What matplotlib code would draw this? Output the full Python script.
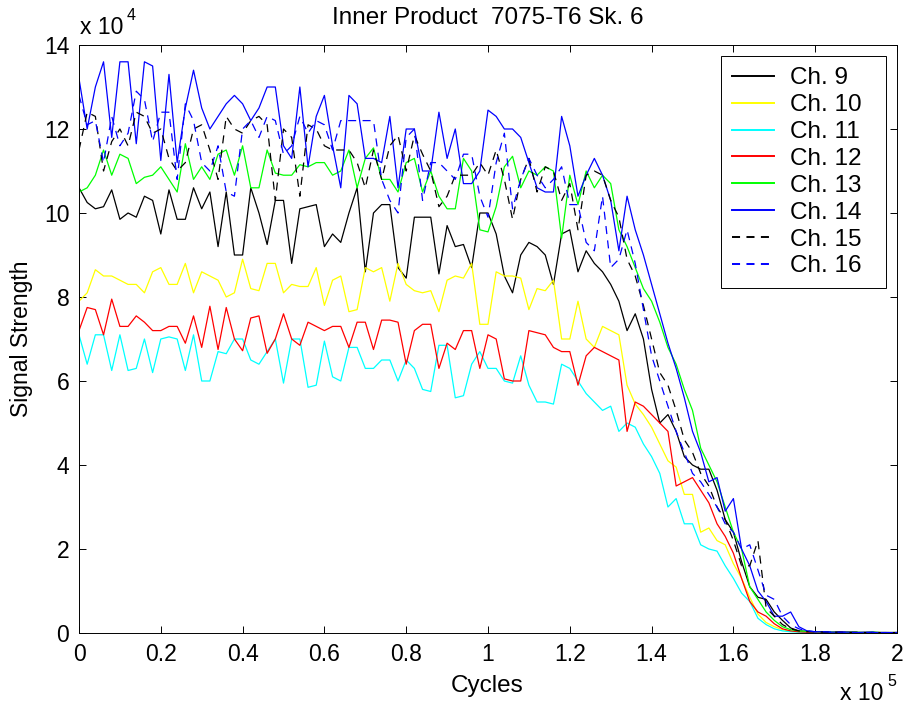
import numpy as np
import matplotlib
matplotlib.use("Agg")
import matplotlib.pyplot as plt

plt.rcParams['font.family'] = ['Liberation Sans', 'DejaVu Sans']
plt.rcParams['lines.scale_dashes'] = False

# cycles in units of 1e5, signal in units of 1e4
cycles = np.linspace(0, 2, 101)

ch9 = [10.6, 10.25, 10.1, 10.15, 10.55, 9.85, 10.0, 9.9, 10.4, 10.3, 9.5,
       10.55, 9.85, 9.85, 10.6, 10.1, 10.5, 9.2, 10.5, 9.0, 9.0,
       10.6, 10.0, 9.25, 10.3, 10.3, 8.8, 10.1, 10.15, 10.2, 9.2,
       9.5, 9.3, 10.0, 10.6, 8.6, 10.0, 10.2, 10.2, 8.7, 8.45,
       9.9, 9.9, 9.9, 8.55, 9.7, 9.2, 9.25, 8.7, 10.0, 10.0,
       9.5, 8.5, 8.1, 9.0, 9.3, 9.2, 9.0, 8.3, 9.5, 9.6,
       8.6, 9.1, 8.8, 8.6, 8.3, 7.9, 7.2, 7.6, 7.0,
       5.8, 5.0, 5.2, 4.8, 4.2, 4.0, 3.9, 3.9, 3.4, 2.7, 2.4, 1.7, 1.1, 0.85,
       0.8, 0.5, 0.3, 0.12,
       0.05, 0.04, 0.03, 0.02, 0.02, 0.01, 0.02, 0.01, 0.01, 0.02, 0.01, 0.01, 0.01]

ch10 = [7.9, 8.1, 8.65, 8.5, 8.5, 8.4, 8.3, 8.3, 8.1, 8.6,
        8.7, 8.3, 8.3, 8.8, 8.1, 8.6, 8.5, 8.4, 8.0, 8.1,
        8.9, 8.2, 8.15, 8.8, 8.8, 8.1, 8.3, 8.25, 8.25, 8.7, 7.8,
        8.4, 8.5, 7.65, 7.7, 8.7, 8.6, 8.7, 7.9, 8.8, 8.3,
        8.15, 8.1, 8.15, 7.65, 8.4, 8.5, 8.45, 8.8, 7.35, 7.35,
        8.6, 8.5, 8.5, 8.45, 7.7, 8.2, 8.15, 8.4, 7.0, 7.0,
        7.9, 7.0, 6.8, 7.3, 7.2, 7.1, 5.9, 5.45, 5.2, 4.9,
        4.5, 4.1, 3.95, 3.3, 3.3, 2.4, 2.5, 2.2, 2.1, 1.65,
        1.3, 0.85, 0.45, 0.25, 0.15, 0.08, 0.04,
        0.03, 0.02, 0.02, 0.01, 0.02, 0.01, 0.01, 0.01, 0.02, 0.01, 0.01, 0.01, 0.01]

ch11 = [7.1, 6.4, 7.1, 7.1, 6.25, 7.1, 6.25, 6.3, 7.0, 6.2,
        7.0, 7.05, 7.0, 6.25, 7.1, 6.0, 6.0, 6.7, 6.65, 7.0,
        7.0, 6.5, 6.4, 6.7, 7.0, 5.95, 7.0, 7.0, 5.85, 5.9, 6.95,
        6.1, 6.0, 6.8, 6.8, 6.3, 6.3, 6.5, 6.5, 6.0, 6.5,
        6.3, 5.8, 5.75, 6.85, 6.85, 5.6, 5.65, 6.4, 6.7, 6.3,
        6.3, 6.0, 5.95, 6.6, 5.9, 5.5, 5.5, 5.45, 6.4,
        6.3, 6.0, 5.7, 5.5, 5.3, 5.4, 4.8, 5.0, 4.9, 4.5, 4.2, 3.8, 3.0,
        3.2, 2.6, 2.6, 2.1, 2.0, 1.95, 1.6, 1.3, 0.95, 0.75, 0.35, 0.2, 0.1,
        0.05, 0.03,
        0.02, 0.02, 0.01, 0.01, 0.01, 0.01, 0.01, 0.01, 0.01, 0.01, 0.01, 0.01, 0.01]

ch12 = [7.2, 7.75, 7.7, 7.1, 7.95, 7.3, 7.3, 7.55, 7.4, 7.2,
        7.2, 7.3, 7.3, 6.9, 7.55, 6.8, 7.78, 6.75, 7.75, 7.0,
        6.72, 7.5, 7.55, 6.66, 7.0, 7.6, 7.0, 6.85, 7.4, 7.3, 7.2,
        7.3, 7.3, 6.8, 7.4, 7.4, 6.75, 7.45, 7.45, 7.4, 6.4,
        7.2, 7.35, 7.35, 6.3, 6.9, 6.75, 7.2, 7.2, 6.3, 7.1,
        7.0, 6.05, 6.0, 6.0, 7.2, 7.15, 7.1, 6.8, 6.7,
        6.7, 5.9, 6.6, 6.8, 6.7, 6.6, 6.5, 4.8, 5.5, 5.4,
        5.2, 5.0, 4.8, 3.5, 3.6, 3.7, 3.4, 3.1, 2.6, 2.3,
        1.9, 1.3, 0.75, 0.5, 0.4, 0.22, 0.1, 0.05,
        0.03, 0.02, 0.02, 0.02, 0.01, 0.03, 0.02, 0.01, 0.01, 0.01, 0.01, 0.01, 0.01]

ch13 = [10.5, 10.6, 10.9, 11.5, 10.9, 11.4, 11.3, 10.7, 10.85, 10.9,
        11.1, 10.8, 10.5, 11.65, 10.8, 11.1, 10.8, 11.4, 11.5, 10.9, 11.6,
        10.6, 10.6, 11.5, 10.95, 10.9, 10.9, 11.15, 11.1, 11.2, 11.2,
        10.9, 11.0, 11.5, 10.6, 11.3, 11.55, 10.8, 10.8, 10.5, 11.2,
        11.3, 10.5, 11.0, 10.4, 10.1, 10.1, 11.3, 11.0, 9.6, 9.55,
        10.15, 11.1, 11.35, 10.6, 11.0, 10.9, 11.1, 11.0, 9.4, 10.9,
        10.2, 11.0, 10.6, 10.9, 10.7, 9.6, 9.2, 8.7, 8.2, 7.9,
        7.4, 6.8, 6.4, 5.8, 5.3,
        4.4, 4.0, 3.6, 3.0, 2.4, 2.0, 1.1, 0.8, 0.5, 0.3, 0.15, 0.08,
        0.05, 0.04, 0.03, 0.03, 0.02, 0.02, 0.02, 0.02, 0.01, 0.02, 0.01, 0.01, 0.01]

ch14 = [13.2, 12.0, 13.0, 13.6, 11.8, 13.6, 13.6, 11.65, 13.6, 13.5,
        11.25, 13.3, 11.2, 12.5, 13.4, 12.5, 12.0, 12.3, 12.6, 12.8, 12.6,
        12.2, 12.5, 13.0, 13.0, 11.6, 11.3, 13.0, 11.1, 12.3, 12.8,
        11.6, 10.6, 12.8, 12.6, 11.3, 11.3, 11.2, 12.3, 10.6, 12.0,
        12.0, 11.0, 11.0, 12.4, 11.3, 12.0, 10.7, 10.7, 11.0, 12.45,
        12.3, 12.0, 12.0, 11.8, 11.2, 10.6, 10.5, 10.5, 12.3, 11.6,
        10.4, 10.9, 11.3, 10.9, 10.3, 9.1, 10.4, 9.6, 9.0, 8.3,
        7.6, 6.9, 6.3, 5.6, 4.8,
        4.3, 3.6, 3.7, 2.9, 3.2, 2.0, 1.6, 1.0, 0.75, 0.4,
        0.4, 0.5, 0.15, 0.05, 0.03,
        0.03, 0.02, 0.02, 0.02, 0.01, 0.02, 0.01, 0.01, 0.01, 0.01]

ch15 = [11.5, 12.4, 12.3, 11.0, 11.7, 12.0, 11.6, 12.4, 12.3, 11.9,
        12.0, 11.3, 11.0, 11.2, 12.0, 12.1, 11.5, 10.8, 12.3, 12.0, 11.9,
        12.2, 12.3, 12.1, 10.3, 12.0, 11.8, 10.4, 12.1, 12.0, 11.6,
        11.5, 11.5, 11.5, 11.2, 10.6, 11.5, 10.8, 11.6, 11.85, 11.0,
        11.85, 11.4, 11.0, 10.15, 10.4, 10.9, 10.9, 10.9, 11.2, 10.9,
        11.5, 10.8, 9.85, 10.8, 11.3, 10.5, 11.1, 11.0, 10.3, 10.7,
        9.6, 10.9, 11.0, 10.9, 10.3, 9.9, 8.9, 8.5, 7.8, 7.0,
        6.2, 5.9, 5.3, 4.6,
        4.3, 3.8, 3.5, 3.0, 2.7, 2.2, 1.6, 1.6, 2.2, 0.6,
        0.4, 0.2, 0.1, 0.05, 0.03, 0.03,
        0.02, 0.02, 0.02, 0.01, 0.02, 0.01, 0.01, 0.01, 0.01, 0.01]

ch16 = [12.8, 12.1, 12.2, 11.2, 12.3, 11.6, 11.9, 12.9, 12.7, 11.7,
        12.4, 12.4, 10.8, 12.6, 12.2, 11.2, 11.0, 11.6, 10.5, 10.4, 12.0,
        12.2, 11.8, 12.3, 12.2, 11.4, 11.6, 12.3, 11.9, 12.2, 12.1,
        11.5, 12.2, 12.2, 12.2, 12.2, 12.2, 10.8, 10.3, 10.0, 11.8,
        12.0, 10.3, 11.2, 11.2, 11.0, 10.8, 11.4, 11.4, 10.4, 9.9,
        11.2, 11.9, 10.1, 10.8, 11.3, 10.9, 10.6, 10.8, 11.1, 10.2,
        10.2, 9.3, 9.1, 10.4, 8.7, 8.9, 9.6, 8.8, 7.7, 6.6,
        6.0, 5.4, 4.8, 4.3,
        3.8, 3.6, 3.3, 3.0, 2.6, 2.4, 2.0, 2.1, 1.5, 0.9,
        0.8, 0.4, 0.2, 0.1, 0.05, 0.03,
        0.03, 0.02, 0.02, 0.02, 0.01, 0.01, 0.02, 0.01, 0.01, 0.01]

labels = ['Ch. 9', 'Ch. 10', 'Ch. 11', 'Ch. 12', 'Ch. 13', 'Ch. 14', 'Ch. 15', 'Ch. 16']
series = [ch9, ch10, ch11, ch12, ch13, ch14, ch15, ch16]
colors = ['#000000', '#ffff00', '#00ffff', '#ff0000', '#00ff00', '#0000ff', '#000000', '#0000ff']
dash = (0, (5.8, 4.6))
styles = ['-', '-', '-', '-', '-', '-', dash, dash]

xticks = [0, 0.2, 0.4, 0.6, 0.8, 1, 1.2, 1.4, 1.6, 1.8, 2]
xticklabels = ['0', '0.2', '0.4', '0.6', '0.8', '1', '1.2', '1.4', '1.6', '1.8', '2']
yticks = [0, 2, 4, 6, 8, 10, 12, 14]

W, H = 909, 711
FS = 16.5

fig = plt.figure(figsize=(W / 100, H / 100), dpi=100)
ax = fig.add_axes([79 / W, 78 / H, 818 / W, 588 / H])

for vals, lab, c, ls in zip(series, labels, colors, styles):
    assert len(vals) == len(cycles), lab
    # trailing spaces give the legend box the wider right margin of the original
    ax.plot(cycles, vals, color=c, linestyle=ls, linewidth=0.9, label=lab + '  ')

ax.set_xlim(0, 2)
ax.set_ylim(0, 14)
ax.set_xticks(xticks)
ax.set_xticklabels(xticklabels)
ax.set_yticks(yticks)
ax.tick_params(direction='in', length=4.8, width=0.7, top=True, right=True,
               labelsize=FS, pad=7)
for s in ax.spines.values():
    s.set_linewidth(0.7)

leg = ax.legend(loc='upper right', fontsize=17.5, fancybox=False, edgecolor='black',
                framealpha=1, borderaxespad=0.47, handlelength=1.73,
                handletextpad=0.62, labelspacing=0.2, borderpad=0.45)
leg.get_frame().set_linewidth(0.7)
for h in leg.get_lines():
    h.set_linewidth(1.4)


def px(x, y):
    return x / W, 1 - y / H


fig.text(*px(488, 18), 'Inner Product  7075-T6 Sk. 6', ha='center', va='center', fontsize=17.5)
fig.text(*px(487, 686), 'Cycles', ha='center', va='center', fontsize=17.5)
fig.text(*px(22, 339), 'Signal Strength', ha='center', va='center', rotation=90, fontsize=FS)
fig.text(*px(80, 28), 'x 10', ha='left', va='center', fontsize=FS)
fig.text(*px(127, 15), '4', ha='left', va='center', fontsize=11.5)
fig.text(*px(840, 693), 'x 10', ha='left', va='center', fontsize=FS)
fig.text(*px(887, 681), '5', ha='left', va='center', fontsize=11.5)

fig.savefig('out.png', dpi=100)
